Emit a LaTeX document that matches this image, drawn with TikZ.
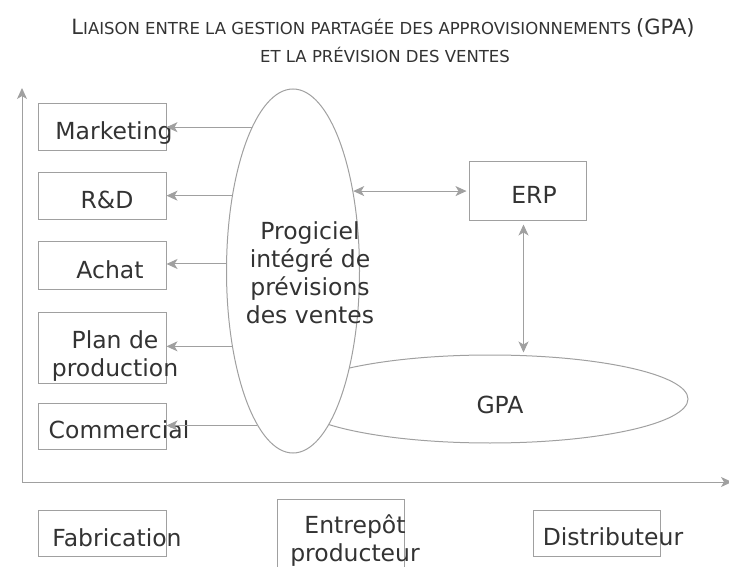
\documentclass[tikz,border=0pt]{standalone}
\usepackage{fontspec}
\setmainfont{DejaVu Sans}
\usetikzlibrary{shapes.geometric,arrows.meta}
\definecolor{linegray}{RGB}{160,160,160}
\definecolor{inkgray}{RGB}{51,51,51}

\begin{document}
\begin{tikzpicture}[
 x=1pt,y=-1pt,
 line/.style={draw=linegray,line width=1pt},
 arr/.style={line,-{Stealth[length=11pt,width=10pt,inset=3pt]}},
 darr/.style={line,{Stealth[length=11pt,width=10pt,inset=3pt]}-{Stealth[length=11pt,width=10pt,inset=3pt]}},
 box/.style={line,rectangle,inner sep=0pt,minimum width=128pt},
 oval/.style={line,ellipse,inner sep=0pt},
 txt/.style={text=inkgray,font=\fontsize{23.5}{27.7}\selectfont,align=center,anchor=base},
 headline/.style={text=inkgray,anchor=base}]
 \useasboundingbox (0,0) rectangle (729,567);
 % Title, two lines.
 \node[headline] (title1) at (383,35) {\fontsize{21}{21}\selectfont L\fontsize{16.5}{16.5}\selectfont IAISON ENTRE LA GESTION PARTAGÉE DES APPROVISIONNEMENTS \fontsize{21}{21}\selectfont(GPA)};
 \node[headline] (title2) at (385,63) {\fontsize{16.5}{16.5}\selectfont ET LA PRÉVISION DES VENTES};
 % Axes.
 \coordinate (o) at (22,482);
 \coordinate (ytop) at (22,88);
 \coordinate (xend) at (732,482);
 \draw[arr] (o)--(ytop);
 \draw[arr] (o)--(xend);
 % GPA behind the forecasting ellipse.
 \node[oval,minimum width=396pt,minimum height=88pt] (gpa) at (490,399){};
 \node[oval,fill=white,minimum width=133pt,minimum height=364pt] (prev) at (293,271){};
 \node[txt] (gpa-t) at (500,413){GPA};
 \node[txt] (prev-t) at (310,323){Progiciel\\intégré de\\prévisions\\des ventes};
 % Departments on the left.
 \node[box,minimum height=47pt] (mkt) at (102,127.5){};
 \node[box,minimum height=47pt] (rd) at (102,196.5){};
 \node[box,minimum height=47pt] (ach) at (102,265.5){};
 \node[box,minimum height=71pt] (plan) at (102,347.5){};
 \node[box,minimum height=46pt] (com) at (102,426){};
 \node[txt] (mkt-t) at (114,140){Marketing};
 \node[txt] (rd-t) at (107,209){R\&D};
 \node[txt] (ach-t) at (110,279){Achat};
 \node[txt] (plan-t) at (115,376){Plan de\\production};
 \node[txt] (com-t) at (119,438){Commercial};
 \draw[arr] (prev.106)--(prev.106 -| mkt.east);
 \draw[arr] (prev.129.4)--(prev.129.4 -| rd.east);
 \draw[arr] (prev.174.8)--(prev.174.8 -| ach.east);
 \draw[arr] (prev.231.5)--(prev.231.5 -| plan.east);
 \draw[arr] (prev.257.1)--(prev.257.1 -| com.east);
 % ERP and its links.
 \node[box,minimum width=117pt,minimum height=59pt] (erp) at (527.5,191.5){};
 \node[txt] (erp-t) at (534,204){ERP};
 \draw[darr,shorten >=2pt] (prev.53)--(prev.53 -| erp.west);
 \draw[darr,shorten <=3pt,shorten >=2pt] ([xshift=-4pt]erp.south)--([xshift=-4pt]erp.south |- gpa.north);
 % Chain along the horizontal axis.
 \node[box,minimum height=46pt] (fab) at (102,533){};
 \node[box,minimum width=127pt,minimum height=76pt] (ent) at (340.5,537){};
 \node[box,minimum width=127pt,minimum height=46pt] (dis) at (596.5,533){};
 \node[txt] (fab-t) at (117,546){Fabrication};
 \node[txt] (ent-t) at (355,561){Entrepôt\\producteur};
 \node[txt] (dis-t) at (613,545){Distributeur};
\end{tikzpicture}
\end{document}
